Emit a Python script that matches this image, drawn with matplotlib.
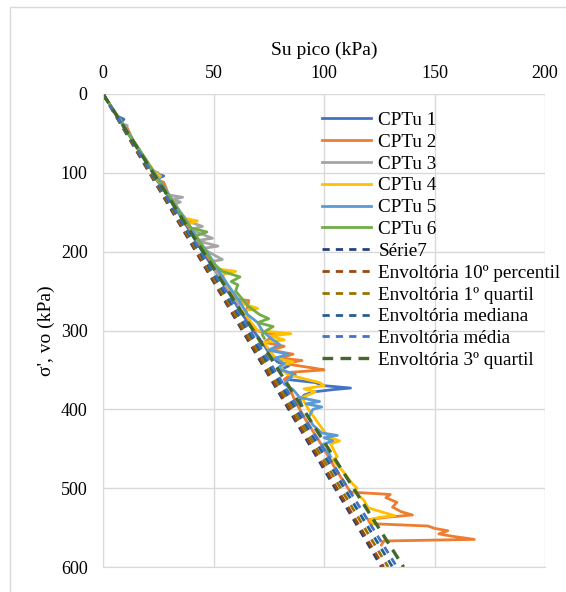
import matplotlib.pyplot as plt
from matplotlib.patches import Rectangle

# ------------------------------------------------------------
# DATA
# ------------------------------------------------------------

# CPTu 1
sig1 = [0, 15, 28, 32, 36, 50, 70, 90, 100, 104, 108, 125, 150, 175, 200, 225, 250,
        275, 300, 315, 330, 340, 345, 350, 356, 362, 366, 370, 373, 375, 378, 382, 388, 395]
su1 = [0, 3.4, 6.4, 9.5, 8.2, 11.3, 15.8, 20.5, 22.8, 27.5, 24, 28.5, 34, 39.5, 45, 51, 56.5,
       62, 68, 72, 75.5, 79, 84, 80, 87, 83, 96, 100, 112, 104, 95, 91, 89, 90]

# CPTu 2
sig2 = [0, 20, 40, 42, 60, 80, 100, 110, 112, 130, 150, 170, 200, 230, 260, 262, 280, 300,
        305, 315, 320, 325, 330, 335, 338, 342, 348, 350, 353, 358, 362, 370, 390, 410, 430,
        450, 470, 490, 505, 508, 512, 518, 524, 530, 534, 537, 540, 545, 548, 551, 554, 558,
        561, 565, 567, 572]
su2 = [0, 4.6, 9.2, 10.8, 13.8, 18.4, 23, 25.5, 27.5, 30, 34.5, 39, 46, 53, 60, 66, 64.5, 69,
       78, 73, 82, 76, 86, 80, 90, 82, 96, 100, 85, 84, 82, 84, 87, 91, 95.5,
       100, 104, 108.5, 112, 130, 128, 133, 131, 135, 140, 128, 120, 121, 147, 150, 156, 152,
       158, 168, 127, 126]

# CPTu 3
sig3 = [0, 20, 38, 40, 42, 60, 80, 97, 100, 103, 120, 128, 131, 134, 137, 140, 160, 168, 172,
        183, 186, 193, 196, 210, 213, 230, 250, 262, 264, 266, 272]
su3 = [0, 4.6, 8.8, 11, 9.5, 13.8, 18.4, 22.5, 25, 23, 27.6, 29.5, 36, 31, 35, 32.5, 37, 45, 39.5,
       49.5, 42.5, 52, 45, 54, 48.5, 52, 57, 60, 65, 61, 62]

# CPTu 4
sig4 = [0, 20, 40, 60, 80, 100, 104, 108, 130, 150, 158, 161, 165, 190, 210, 222, 225, 228, 232,
        250, 265, 272, 275, 290, 300, 304, 307, 312, 315, 320, 335, 340, 345, 355, 362, 366, 370,
        374, 378, 385, 400, 420, 435, 440, 444, 455, 460, 464, 480, 495, 500, 505, 510, 515, 525,
        535, 537, 540, 545]
su4 = [0, 4.7, 9.4, 14, 18.8, 23.5, 26, 24.5, 30.5, 35, 37.5, 42.7, 38.5, 44.5, 49, 52, 60, 55, 54,
       58, 62, 70, 63.5, 67, 70, 85, 76, 82, 73, 74, 78, 86, 80, 83, 92, 98, 100,
       91, 96, 90, 93, 98, 102, 107, 103, 105, 106, 104, 109, 113, 115, 114, 116, 118, 120,
       132, 125, 121, 122]

# CPTu 5
sig5 = [0, 20, 40, 60, 80, 100, 120, 140, 160, 180, 200, 220, 240, 260, 280, 290, 300, 310, 318,
        325, 330, 335, 342, 348, 355, 362, 368, 375, 385, 390, 393, 397, 400, 405, 410, 420, 430,
        433, 436, 440, 445, 450, 455, 460]
su5 = [0, 4.6, 9.4, 14, 18.6, 23.3, 28, 32.6, 37.5, 42, 47, 51.5, 56, 61, 65.5, 70, 72, 76, 80,
       75, 84, 78, 82, 79, 86, 84, 82, 86, 89, 98, 92, 99, 95, 94, 93, 95, 99,
       106, 100, 104, 99, 100, 102, 103]

# CPTu 6
sig6 = [0, 20, 40, 60, 80, 100, 120, 140, 150, 160, 170, 175, 180, 200, 215, 225, 232, 238, 242,
        250, 260, 270, 280, 285, 290, 295, 300, 305, 310]
su6 = [0, 4.6, 9.2, 13.8, 18.4, 23, 27.6, 32.2, 34.5, 37, 40, 47, 42, 46.5, 50, 54, 62, 58, 61,
       60, 63, 66, 71, 75, 70, 77, 74, 72, 73]

# envelope lines: straight from origin, Su reached at sigma'vo = 600
env_names = ["Série7", "Envoltória 10º percentil", "Envoltória 1º quartil",
             "Envoltória mediana", "Envoltória média", "Envoltória 3º quartil"]
env_su600 = [126, 127, 129, 131, 133, 136]

cptu_names = ["CPTu 1", "CPTu 2", "CPTu 3", "CPTu 4", "CPTu 5", "CPTu 6"]
cptu_sig = [sig1, sig2, sig3, sig4, sig5, sig6]
cptu_su = [su1, su2, su3, su4, su5, su6]

cptu_colors = ["#4472C4", "#ED7D31", "#A5A5A5", "#FFC000", "#5B9BD5", "#70AD47"]
env_colors = ["#264478", "#9E480E", "#997300", "#255E91", "#4472C4", "#43682B"]

# ============================================================
# PLOT
# ============================================================

plt.rcParams["font.family"] = ["Liberation Serif", "DejaVu Serif"]

fig = plt.figure(figsize=(5.66, 5.92), dpi=100)
ax = fig.add_axes([103 / 566, 1 - 567 / 592, 442 / 566, 473 / 592])

# light chart-area frame
fig.patches.append(Rectangle((10 / 566, -0.05), 1.1, 1 - 7 / 592 + 0.05,
                             transform=fig.transFigure, fill=False,
                             edgecolor="#D9D9D9", linewidth=1))

for name, s, u, c in zip(cptu_names, cptu_sig, cptu_su, cptu_colors):
    ax.plot(u, s, color=c, linewidth=2, label=name, solid_joinstyle="round")

for i, (name, u600, c) in enumerate(zip(env_names, env_su600, env_colors)):
    if i == 5:
        ax.plot([0, u600], [0, 600], color=c, linewidth=2.4, dashes=(3.2, 2.2), label=name)
    else:
        ax.plot([0, u600], [0, 600], color=c, linewidth=2, dashes=(2.6, 2.2), label=name)

ax.set_xlim(0, 200)
ax.set_ylim(600, 0)
ax.set_xticks([0, 50, 100, 150, 200])
ax.set_yticks([0, 100, 200, 300, 400, 500, 600])

ax.xaxis.tick_top()
ax.xaxis.set_label_position("top")
ax.set_xlabel("Su pico (kPa)", fontsize=14, labelpad=7)
ax.set_ylabel("σ', vo (kPa)", fontsize=14, labelpad=4)
ax.tick_params(axis="y", length=0, labelsize=13, pad=11)
ax.tick_params(axis="x", length=0, labelsize=13, pad=9)

ax.grid(True, color="#D9D9D9", linewidth=1)
ax.set_axisbelow(True)
for sp in ax.spines.values():
    sp.set_visible(False)
ax.spines["left"].set_visible(True)
ax.spines["left"].set_color("#D9D9D9")
ax.spines["bottom"].set_visible(True)
ax.spines["bottom"].set_color("#D9D9D9")

ax.legend(loc="upper left", bbox_to_anchor=(0.495, 0.963), frameon=False,
          fontsize=13.8, handlelength=2.55, handletextpad=0.4, labelspacing=0.23,
          borderpad=0, borderaxespad=0)

plt.savefig("out.png", dpi=100)
